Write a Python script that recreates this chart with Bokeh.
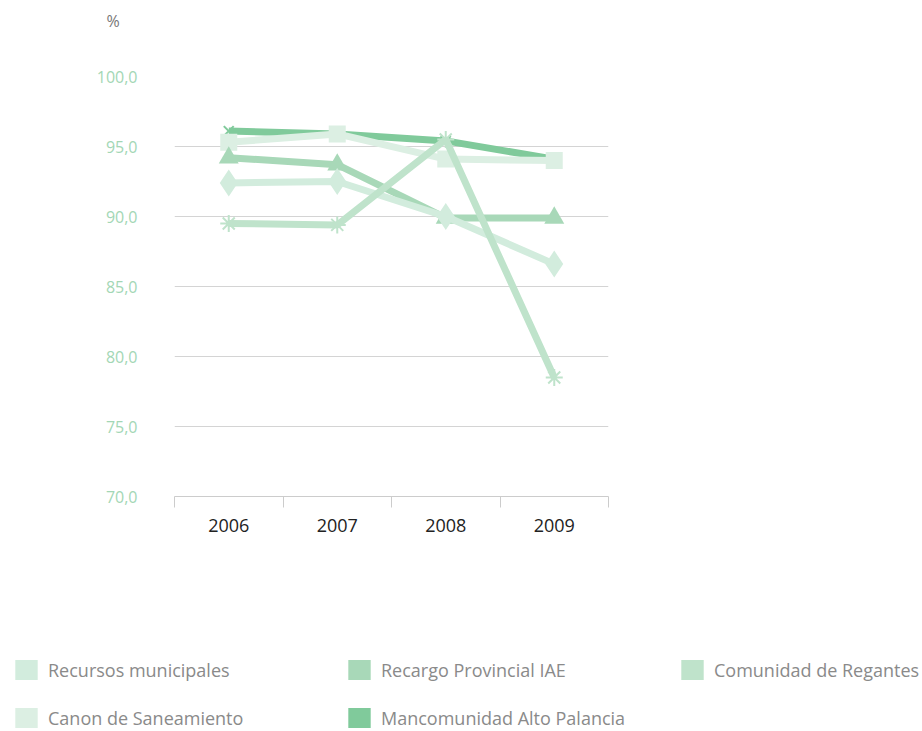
from bokeh.plotting import figure
from bokeh.models import FixedTicker, Legend, LegendItem, Range1d, ColumnDataSource, Label
from bokeh.embed import file_html
from bokeh.resources import INLINE

years = ["2006", "2007", "2008", "2009"]
recursos = [92.4, 92.5, 90.0, 86.6]
recargo = [94.2, 93.7, 89.9, 89.9]
regantes = [89.5, 89.4, 95.5, 78.5]
canon = [95.3, 95.9, 94.1, 94.0]
mancomunidad = [96.1, 95.9, 95.4, 94.1]
y_ticks = [70, 75, 80, 85, 90, 95, 100]
y_tick_labels = ["70,0", "75,0", "80,0", "85,0", "90,0", "95,0", "100,0"]
unit_label = "%"

names = ["Recursos municipales", "Recargo Provincial IAE", "Comunidad de Regantes",
         "Canon de Saneamiento", "Mancomunidad Alto Palancia"]
colors = {
    "Recursos municipales": "#d2ecdd",
    "Recargo Provincial IAE": "#a8d8b8",
    "Comunidad de Regantes": "#bfe3cb",
    "Canon de Saneamiento": "#dcefe3",
    "Mancomunidad Alto Palancia": "#80ca9b",
}

FONT = "Open Sans"
W, H0, H1, H2 = 922, 40, 512, 178
xs = list(range(1, len(years) + 1))
bounds = [i - 0.5 for i in range(1, len(years) + 2)]

# top strip with the unit label
top = figure(width=W, height=H0, x_range=Range1d(0, 1), y_range=Range1d(0, 1),
             output_backend="svg", toolbar_location=None, x_axis_type=None, y_axis_type=None,
             min_border=0)
top.outline_line_color = None
top.grid.grid_line_color = None
top.add_layout(Label(x=106, y=20, x_units="screen", y_units="screen", text=unit_label,
                     text_baseline="middle", text_align="left", text_color="#777777",
                     text_font=FONT, text_font_size="16px"))

p = figure(width=W, height=H1,
           x_range=Range1d(0.5, len(years) + 0.5), y_range=Range1d(70, 100),
           output_backend="svg", toolbar_location=None,
           min_border_left=174, min_border_top=36, min_border_right=W - 174 - 434,
           min_border_bottom=H1 - 36 - 420)
p.outline_line_color = None
p.xgrid.grid_line_color = None
p.ygrid.grid_line_color = "#d4d4d4"
p.ygrid.ticker = FixedTicker(ticks=y_ticks)

p.yaxis.ticker = FixedTicker(ticks=y_ticks)
p.yaxis.major_label_overrides = dict(zip(y_ticks, y_tick_labels))
p.yaxis.axis_line_color = None
p.yaxis.major_tick_line_color = None
p.yaxis.major_tick_out = 0
p.yaxis.minor_tick_line_color = None
p.yaxis.major_label_standoff = 37
p.yaxis.major_label_text_color = "#a3d7b5"
p.yaxis.major_label_text_font = FONT
p.yaxis.major_label_text_font_size = "16px"

p.xaxis.ticker = FixedTicker(ticks=xs, minor_ticks=bounds)
p.xaxis.major_label_overrides = dict(zip(xs, years))
p.xaxis.axis_line_color = "#cccccc"
p.xaxis.major_tick_line_color = None
p.xaxis.major_tick_out = 0
p.xaxis.minor_tick_line_color = "#cccccc"
p.xaxis.minor_tick_in = 0
p.xaxis.minor_tick_out = 11
p.xaxis.major_label_standoff = 11
p.xaxis.major_label_text_color = "#222222"
p.xaxis.major_label_text_font = FONT
p.xaxis.major_label_text_font_size = "18px"

series = [
    ("Mancomunidad Alto Palancia", mancomunidad, "x", 14),
    ("Canon de Saneamiento", canon, "square", 17),
    ("Recargo Provincial IAE", recargo, "triangle", 20),
    ("Recursos municipales", recursos, "diamond", 27),
    ("Comunidad de Regantes", regantes, "asterisk", 17),
]
for name, vals, marker, size in series:
    c = colors[name]
    p.line(xs, vals, line_color=c, line_width=7)
    if marker in ("x", "asterisk"):
        p.scatter(xs, vals, marker=marker, size=size, line_color=c, line_width=2)
    else:
        p.scatter(xs, vals, marker=marker, size=size, fill_color=c, line_color=None)

# legend strip: swatch renderers with a single NaN box (nothing drawn), legend only
lg = figure(width=W, height=H2, x_range=Range1d(0, 1), y_range=Range1d(0, 1),
            output_backend="svg", toolbar_location=None, x_axis_type=None, y_axis_type=None,
            min_border=0)
lg.outline_line_color = None
lg.grid.grid_line_color = None
nan = float("nan")
dummies = {}
for name in names:
    src = ColumnDataSource(dict(left=[nan], right=[nan], top=[nan], bottom=[nan]))
    dummies[name] = lg.quad(left="left", right="right", top="top", bottom="bottom",
                            source=src, fill_color=colors[name], line_color=None)

rows = [(names[:3], 48), (names[3:], 0)]
for row_names, ypos in rows:
    leg = Legend(items=[LegendItem(label=n, renderers=[dummies[n]]) for n in row_names],
                 location=(12, ypos), orientation="horizontal",
                 glyph_width=28, glyph_height=25, label_standoff=8, label_width=289,
                 spacing=8, padding=0, margin=0, border_line_color=None,
                 background_fill_alpha=0, label_text_font=FONT, label_text_font_size="18px",
                 label_text_color="#8a8a8a")
    lg.add_layout(leg, "center")

open("out.html", "w").write(file_html([top, p, lg], INLINE))
